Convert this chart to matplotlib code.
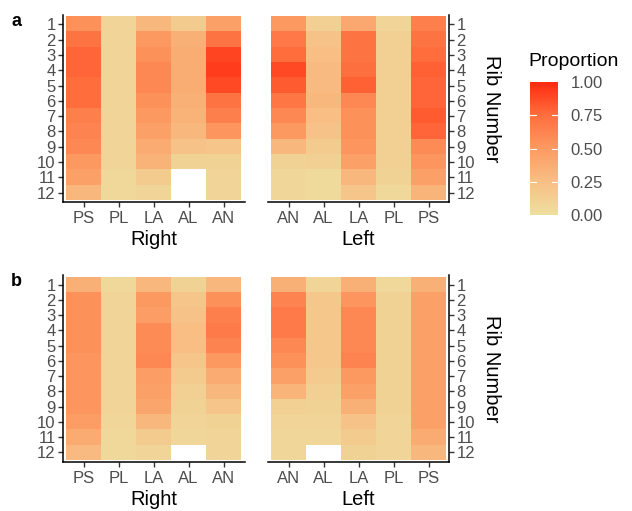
import numpy as np
import matplotlib
matplotlib.use("Agg")
import matplotlib.pyplot as plt
from matplotlib.colors import LinearSegmentedColormap

plt.rcParams["font.family"] = ["Liberation Sans", "DejaVu Sans"]

ribs = list(range(1, 13))
right_cols = ["PS", "PL", "LA", "AL", "AN"]
left_cols = ["AN", "AL", "LA", "PL", "PS"]
cbar_ticks = [0, 0.25, 0.5, 0.75, 1.0]

# proportions, rows = rib 1..12, columns in the order of the panel's labels
a_right = [
    [0.55, 0.08, 0.30, 0.15, 0.45],
    [0.72, 0.08, 0.50, 0.35, 0.72],
    [0.78, 0.08, 0.55, 0.37, 0.90],
    [0.78, 0.08, 0.60, 0.37, 0.93],
    [0.75, 0.08, 0.60, 0.37, 0.88],
    [0.75, 0.08, 0.55, 0.35, 0.72],
    [0.65, 0.08, 0.50, 0.33, 0.65],
    [0.62, 0.08, 0.45, 0.30, 0.52],
    [0.60, 0.08, 0.38, 0.22, 0.20],
    [0.50, 0.08, 0.33, 0.10, 0.10],
    [0.45, 0.05, 0.15, np.nan, 0.08],
    [0.30, 0.05, 0.08, np.nan, 0.08],
]
a_left = [
    [0.50, 0.12, 0.40, 0.08, 0.65],
    [0.68, 0.22, 0.72, 0.12, 0.72],
    [0.75, 0.25, 0.72, 0.12, 0.75],
    [0.88, 0.28, 0.74, 0.12, 0.80],
    [0.82, 0.28, 0.80, 0.12, 0.78],
    [0.70, 0.30, 0.60, 0.12, 0.78],
    [0.60, 0.25, 0.55, 0.12, 0.82],
    [0.50, 0.22, 0.55, 0.12, 0.78],
    [0.30, 0.15, 0.52, 0.12, 0.58],
    [0.10, 0.12, 0.45, 0.12, 0.52],
    [0.06, 0.04, 0.30, 0.10, 0.45],
    [0.06, 0.04, 0.20, 0.05, 0.32],
]
b_right = [
    [0.35, 0.05, 0.30, 0.10, 0.30],
    [0.55, 0.08, 0.50, 0.20, 0.55],
    [0.55, 0.08, 0.48, 0.22, 0.65],
    [0.55, 0.08, 0.58, 0.25, 0.67],
    [0.55, 0.08, 0.58, 0.25, 0.62],
    [0.52, 0.08, 0.60, 0.20, 0.50],
    [0.52, 0.08, 0.48, 0.15, 0.38],
    [0.52, 0.08, 0.45, 0.12, 0.30],
    [0.52, 0.08, 0.42, 0.10, 0.20],
    [0.48, 0.06, 0.30, 0.08, 0.10],
    [0.38, 0.05, 0.15, 0.06, 0.08],
    [0.28, 0.05, 0.08, np.nan, 0.08],
]
b_left = [
    [0.35, 0.08, 0.35, 0.05, 0.35],
    [0.62, 0.18, 0.52, 0.10, 0.45],
    [0.67, 0.18, 0.60, 0.10, 0.45],
    [0.67, 0.18, 0.60, 0.10, 0.45],
    [0.60, 0.18, 0.60, 0.10, 0.45],
    [0.55, 0.18, 0.62, 0.10, 0.45],
    [0.45, 0.15, 0.50, 0.10, 0.45],
    [0.32, 0.12, 0.45, 0.10, 0.45],
    [0.12, 0.10, 0.35, 0.10, 0.45],
    [0.08, 0.08, 0.22, 0.08, 0.45],
    [0.06, 0.06, 0.15, 0.08, 0.38],
    [0.06, np.nan, 0.10, 0.08, 0.30],
]

cmap = LinearSegmentedColormap.from_list(
    "prop", ["#EEDFA0", "#F8BF84", "#FC9A62", "#FF6E3E", "#FF2A0F"])
cmap.set_bad("white")

W, H = 632, 511
fig = plt.figure(figsize=(W / 100, H / 100), dpi=100)


def px_axes(x0, y0, x1, y1):
    return fig.add_axes([x0 / W, 1 - y1 / H, (x1 - x0) / W, (y1 - y0) / H])


def heat(ax, data, cols, side, xlabel):
    arr = np.ma.masked_invalid(np.array(data, dtype=float))
    ax.imshow(arr, cmap=cmap, vmin=0, vmax=1, aspect="auto",
              extent=(0.5, 5.5, 12.5, 0.5), interpolation="nearest")
    ax.set_xlim(0.4, 5.6)
    ax.set_ylim(12.6, 0.4)
    ax.set_xticks(range(1, 6))
    ax.set_xticklabels(cols)
    ax.set_yticks(ribs)
    ax.set_yticklabels([str(r) for r in ribs])
    for s in ["top", "left", "right"]:
        ax.spines[s].set_visible(False)
    ax.spines[side].set_visible(True)
    for s in ["bottom", side]:
        ax.spines[s].set_linewidth(1.1)
        ax.spines[s].set_color("black")
    if side == "right":
        ax.yaxis.tick_right()
    ax.tick_params(length=3.5, width=1.0, color="#333333", labelcolor="#4D4D4D",
                   labelsize=12, pad=1.5)
    ax.tick_params(axis="x", pad=3)
    ax.set_xlabel(xlabel, fontsize=14.5, labelpad=3)


rows = [(15, 202, a_right, a_left, "a", 21), (275.5, 461.5, b_right, b_left, "b", 281)]
for y0, y1, dr, dl, tag, ty in rows:
    ax1 = px_axes(62.5, y0, 244.5, y1)
    heat(ax1, dr, right_cols, "left", "Right")
    ax2 = px_axes(267.5, y0, 449.5, y1)
    heat(ax2, dl, left_cols, "right", "Left")
    fig.text(492 / W, 1 - ((y0 + y1) / 2) / H, "Rib Number", rotation=-90,
             ha="center", va="center", fontsize=14.5)
    fig.text(11 / W, 1 - ty / H, tag, fontsize=13, fontweight="bold",
             ha="left", va="center")

# colour bar, white tick marks only at the inner breaks (as ggplot draws them)
cax = px_axes(530, 82, 558, 215)
sm = matplotlib.cm.ScalarMappable(cmap=cmap, norm=plt.Normalize(0, 1))
cb = fig.colorbar(sm, cax=cax, ticks=cbar_ticks)
cb.outline.set_visible(False)
cb.ax.set_yticklabels([f"{t:.2f}" for t in cbar_ticks])
cb.ax.tick_params(length=0, labelcolor="#4D4D4D", labelsize=12, pad=9)
for t in cbar_ticks[1:-1]:
    cb.ax.plot([0, 0.2], [t, t], color="white", lw=0.8, transform=cb.ax.get_yaxis_transform())
    cb.ax.plot([0.8, 1.0], [t, t], color="white", lw=0.8, transform=cb.ax.get_yaxis_transform())
fig.text(528 / W, 1 - 62 / H, "Proportion", fontsize=14, ha="left", va="center")

fig.savefig("out.png", dpi=100)
